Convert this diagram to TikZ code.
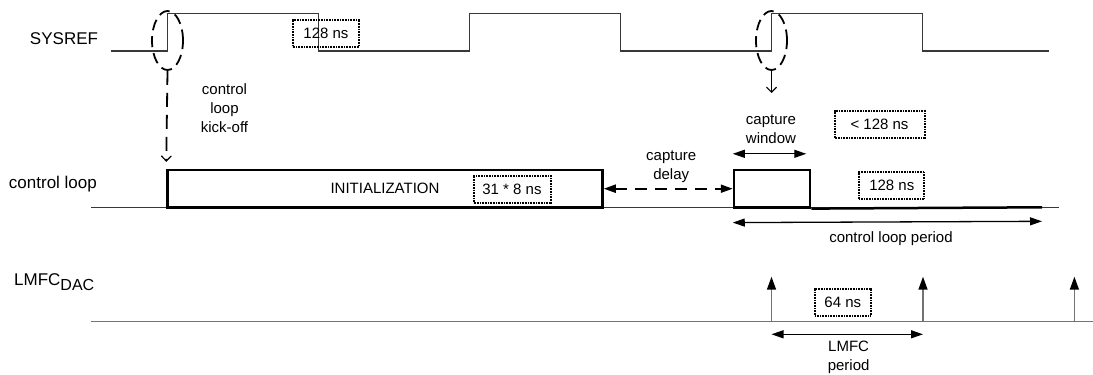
\documentclass[tikz,border=0pt]{standalone}
\usepackage{fontspec}
\setmainfont{Liberation Sans}
\usetikzlibrary{arrows.meta,positioning,shapes.geometric,calc}
\definecolor{wire}{gray}{0.22}
\definecolor{rail}{gray}{0.45}

\begin{document}
\begin{tikzpicture}[
    x=1pt, y=-1pt,
    lbl/.style={anchor=base west, inner sep=0pt, font=\fontsize{17}{20}\selectfont},
    note/.style={align=center, inner sep=0pt, font=\fontsize{15}{19}\selectfont},
    tbox/.style={
        draw, dash pattern=on 1pt off 0.6pt, line width=2pt, inner sep=0pt,
        minimum height=27pt, font=\fontsize{15}{18}\selectfont
    },
    block/.style={
        rectangle, draw, line width=2.5pt, inner sep=0pt,
        minimum height=37.3pt, font=\fontsize{15}{18}\selectfont
    },
    ring/.style={
        ellipse, draw, line width=1.8pt, dash pattern=on 11pt off 6pt,
        minimum width=31pt, minimum height=59pt, inner sep=0pt
    },
    span/.style={{Triangle[length=12pt,width=8pt]}-{Triangle[length=12pt,width=8pt]}, line width=1.3pt},
    kick/.style={line width=1.8pt, -{Straight Barb[length=5pt,width=10pt,line width=1.2pt]}},
    tick/.style={draw=rail, line width=1.5pt, -{Triangle[length=13pt,width=9pt,color=black]}}
]

% Sinais
\useasboundingbox (0,0) rectangle (1093,375);
\draw[wire, line width=1.3pt] (110.5,51) -- (167.5,51) -- (167.5,13.5) -- (318.5,13.5)
    -- (318.5,51) -- (469.5,51) -- (469.5,13.5) -- (620.5,13.5) -- (620.5,51)
    -- (771.5,51) -- (771.5,13.5) -- (922.5,13.5) -- (922.5,51) -- (1049,51);
\draw[wire, line width=1pt] (91,207.3) -- (1059,207.3);
\draw[rail, line width=1.5pt] (91,321.3) -- (1093,321.3);

% Rótulos
\node[lbl] (sysref) at (29.8,44.4) {SYSREF};
\node[lbl] (loop) at (8.8,188) {control loop};
\node[lbl] (lmfc) at (14,285) {LMFC\raisebox{-5.5pt}{\fontsize{16}{18}\selectfont DAC}};

% Nós
\node[ring] (ring1) at (167.5,40.5) {};
\node[ring] (ring2) at (771.5,40.5) {};
\coordinate (winend) at (771.5,93);
\node[block, minimum width=435pt] (init) at (385,188.7) {INITIALIZATION};
\node[block, minimum width=76pt] (capwin) at (772,188.7) {};
\coordinate (loopend) at (1042,207.3);
\coordinate (lmfc1) at (771.5,321.3);
\coordinate (lmfc2) at (923,321.3);
\coordinate (lmfc3) at (1074.4,321.3);

\node[tbox, minimum width=66.6pt] (t128a) at (326,33) {128 ns};
\node[tbox, minimum width=77pt] (t31) at (512,189.3) {31 * 8 ns};
\node[tbox, minimum width=90pt] (tlt) at (879.5,124) {< 128 ns};
\node[tbox, minimum width=65.3pt] (t128b) at (891.8,185.3) {128 ns};
\node[tbox, minimum width=55.4pt] (t64) at (842.8,302.5) {64 ns};

\node[note] (kicktxt) at (224.5,108.3) {control\\loop\\kick-off};
\node[note] (delaytxt) at (671.2,166.7) {capture\\delay};
\node[note] (wintxt) at (771,129) {capture\\window};
\node[note] (periodtxt) at (891,238.3) {control loop period};
\node[note] (lmfctxt) at (848.6,357.5) {LMFC\\period};

% Conexões
\draw[kick, dash pattern=on 14pt off 8pt] (ring1.south) -- ([yshift=7pt]init.north west);
\draw[kick] (ring2.south) -- (winend);
\draw[line width=2.5pt] (capwin.south east) -- (loopend);
\draw[span, line width=2pt, dash pattern=on 12pt off 8pt] (init.east) -- (capwin.west);
\draw[span] ([yshift=15pt]capwin.north west) -- ([yshift=15pt,xshift=-5pt]capwin.north east);
\draw[span] ([yshift=-14pt]capwin.south west) -- ([yshift=-14pt]loopend);
\draw[tick] (lmfc1) -- ([yshift=44.6pt]lmfc1);
\draw[tick] (lmfc2) -- ([yshift=44.6pt]lmfc2);
\draw[tick] (lmfc3) -- ([yshift=44.6pt]lmfc3);
\draw[span] ([yshift=-13pt]lmfc1) -- ([yshift=-13pt]lmfc2);

\end{tikzpicture}
\end{document}
